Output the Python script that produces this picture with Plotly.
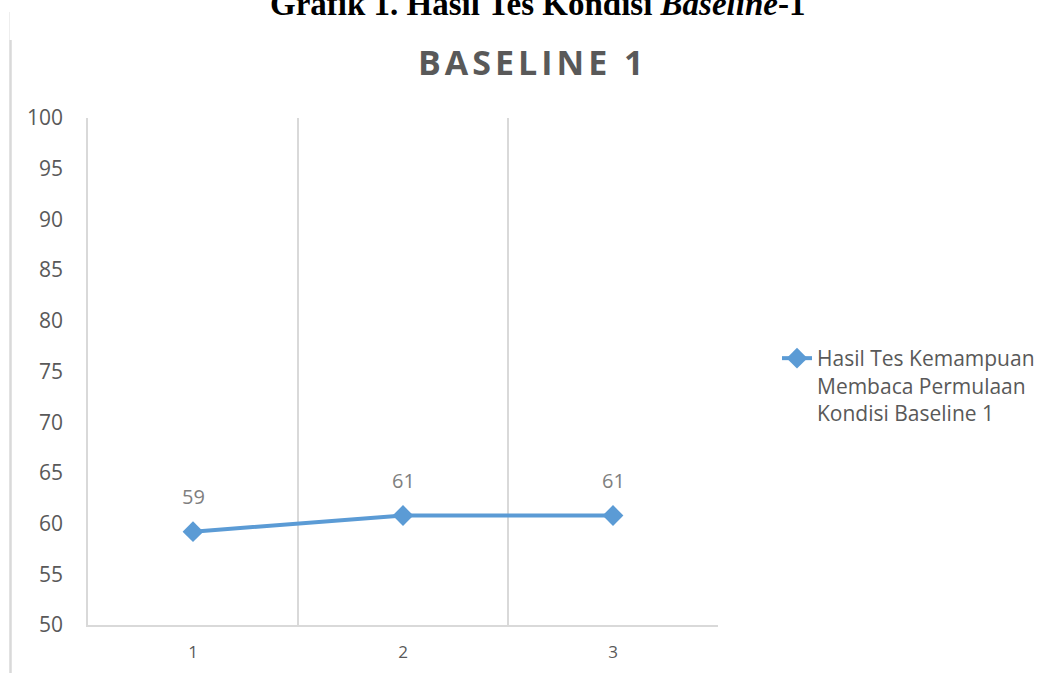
import plotly.graph_objects as go

categories = [1, 2, 3]
values = [59.2, 60.8, 60.8]
series_name = "Hasil Tes Kemampuan<br>Membaca Permulaan<br>Kondisi Baseline 1"
y_ticks = [50, 55, 60, 65, 70, 75, 80, 85, 90, 95, 100]
chart_title = "BASELINE 1"
caption = "<b>Grafik 1. Hasil Tes Kondisi <i>Baseline</i>-1</b>"

W, H = 1046, 673
L, R, T, B = 88, 718, 118, 625
FONT = "Open Sans"
GREY = "#595959"
BLUE = "#5b9bd5"
GRID = "#d9d9d9"

pw, ph = R - L, B - T
def px(x):
    return (x - L) / pw
def py(y):
    return (B - y) / ph

fig = go.Figure()
fig.add_trace(go.Scatter(
    x=categories, y=values, mode="lines+markers", name=series_name,
    line=dict(color=BLUE, width=4),
    marker=dict(symbol="diamond", size=16, color=BLUE),
))

for xv, yv in zip(categories, values):
    fig.add_annotation(x=xv, y=yv, text=f"{yv:.0f}", showarrow=False,
                       yshift=35, font=dict(family=FONT, size=20, color="#7f7f7f"))

fig.add_annotation(xref="paper", yref="paper", x=px(537), y=py(4),
                   text=caption, showarrow=False, xanchor="center", yanchor="middle",
                   font=dict(family="Liberation Serif", size=33, color="#000000"))
fig.add_annotation(xref="paper", yref="paper", x=px(533), y=py(62),
                   text=f"<b><span style='letter-spacing:4px'>{chart_title}</span></b>",
                   showarrow=False, xanchor="center", yanchor="middle",
                   font=dict(family=FONT, size=34, color=GREY))

fig.add_shape(type="line", xref="paper", yref="paper", x0=px(10.5), x1=px(10.5),
              y0=py(40), y1=py(H + 5), line=dict(color=GRID, width=2.5))
fig.add_shape(type="line", xref="paper", yref="paper", x0=px(9.5), x1=px(9.5),
              y0=py(12), y1=py(40), line=dict(color="#eeeeee", width=1))

fig.update_layout(
    width=W, height=H,
    margin=dict(l=L, r=W - R, t=T, b=H - B, autoexpand=False),
    paper_bgcolor="white", plot_bgcolor="white",
    showlegend=True,
    legend=dict(x=px(777), y=py(338), xanchor="left", yanchor="top",
                valign="top", bgcolor="rgba(0,0,0,0)",
                font=dict(family=FONT, size=21, color=GREY)),
    xaxis=dict(range=[0.5, 3.5], tickvals=categories, ticktext=[str(c) for c in categories],
               showgrid=False, zeroline=False,
               showline=True, linecolor=GRID, linewidth=1.5, mirror=False,
               ticks="outside", ticklen=11, tickcolor="rgba(0,0,0,0)",
               tickfont=dict(family=FONT, size=17, color=GREY),
               minor=dict(tickvals=[1.5, 2.5, 3.5], showgrid=True, gridcolor=GRID, gridwidth=1.5)),
    yaxis=dict(range=[50, 100], tickvals=y_ticks, showgrid=False, zeroline=False,
               showline=True, linecolor=GRID, linewidth=1.5,
               ticks="outside", ticklen=19, tickcolor="rgba(0,0,0,0)",
               tickfont=dict(family=FONT, size=21, color=GREY)),
)

fig.write_html("out.html")
